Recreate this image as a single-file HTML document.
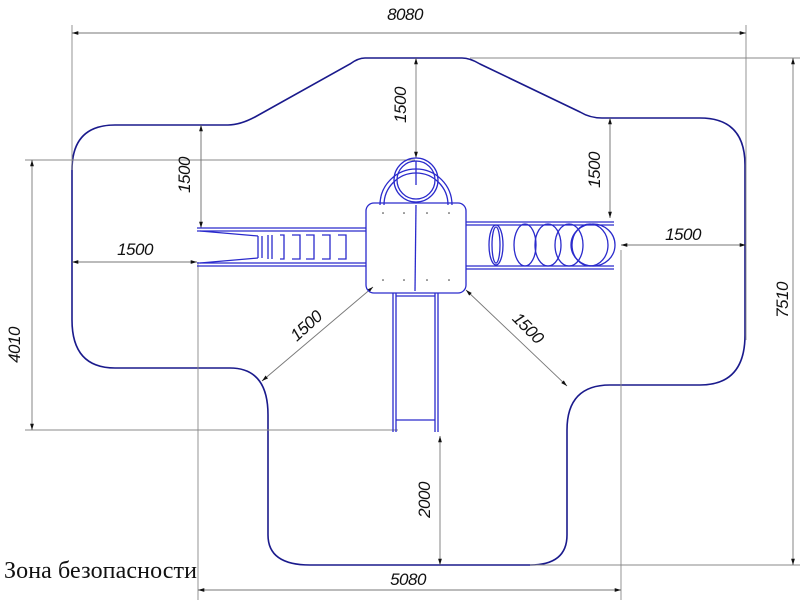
<!DOCTYPE html>
<html><head><meta charset="utf-8"><style>
html,body{margin:0;padding:0;background:#fff;width:800px;height:600px;overflow:hidden}
svg{display:block}
.d{font-family:"Liberation Sans",sans-serif;font-style:italic;font-size:17px;fill:#111;letter-spacing:-0.5px}
</style></head><body>
<svg width="800" height="600" viewBox="0 0 800 600" xmlns="http://www.w3.org/2000/svg">
<defs>
<marker id="a" viewBox="0 0 10 10" refX="10" refY="5" markerWidth="7" markerHeight="7" orient="auto-start-reverse"><path d="M0,2 L10,5 L0,8z" fill="#111"/></marker>
</defs>
<path d="M365,58 L462,58 Q470,58 480,64 L580,112 Q590,118 602,118 L700,118 Q745,118 745,165 L745,335 Q745,385 700,385 L610,385 Q567,385 567,430 L567,535 Q567,565 530,565 L310,565 Q268,565 268,535 L268,415 Q268,368 230,368 L115,368 Q72,368 72,320 L72,170 Q72,125 115,125 L228,125 Q240,125 255,117 L350,64 Q358,58 365,58 Z" fill="none" stroke="#1a1a8c" stroke-width="1.6"/>
<g stroke="#888" stroke-width="0.9" fill="none">
<line x1="72" y1="25" x2="72" y2="170"/><line x1="746" y1="25" x2="746" y2="340"/>
<line x1="470" y1="58" x2="800" y2="58"/><line x1="530" y1="565" x2="800" y2="565"/>
<line x1="25" y1="160" x2="415" y2="160"/><line x1="25" y1="430" x2="398" y2="430"/>
<line x1="198" y1="262" x2="198" y2="600"/><line x1="621" y1="250" x2="621" y2="600"/>
<line x1="201" y1="125" x2="201" y2="228"/><line x1="610" y1="118" x2="610" y2="218"/>
</g>
<g stroke="#777" stroke-width="0.9" fill="none" marker-start="url(#a)" marker-end="url(#a)">
<line x1="72" y1="33" x2="746" y2="33"/>
<line x1="793" y1="58" x2="793" y2="565"/>
<line x1="32" y1="160" x2="32" y2="430"/>
<line x1="198" y1="590" x2="621" y2="590"/>
<line x1="416" y1="58" x2="416" y2="158"/>
<line x1="201" y1="125" x2="201" y2="228"/>
<line x1="610" y1="118" x2="610" y2="218"/>
<line x1="72" y1="262" x2="197" y2="262"/>
<line x1="621" y1="245" x2="746" y2="245"/>
<line x1="440" y1="436" x2="440" y2="565"/>
<line x1="262" y1="381" x2="373" y2="287"/>
<line x1="466" y1="290" x2="567" y2="386"/>
</g>
<text class="d" x="405" y="20" text-anchor="middle">8080</text>
<text class="d" x="408" y="585" text-anchor="middle">5080</text>
<text class="d" x="135" y="255" text-anchor="middle">1500</text>
<text class="d" x="683" y="240" text-anchor="middle">1500</text>
<text class="d" text-anchor="middle" transform="translate(406,105) rotate(-90)">1500</text>
<text class="d" text-anchor="middle" transform="translate(190,175) rotate(-90)">1500</text>
<text class="d" text-anchor="middle" transform="translate(600,170) rotate(-90)">1500</text>
<text class="d" text-anchor="middle" transform="translate(430,500) rotate(-90)">2000</text>
<text class="d" text-anchor="middle" transform="translate(20,345) rotate(-90)">4010</text>
<text class="d" text-anchor="middle" transform="translate(788,300) rotate(-90)">7510</text>
<text class="d" text-anchor="middle" transform="translate(310,330) rotate(-42)">1500</text>
<text class="d" text-anchor="middle" transform="translate(524,332) rotate(45)">1500</text>
<text x="4" y="578" font-family="Liberation Serif,serif" font-size="24" fill="#111" textLength="193">Зона безопасности</text>
<g stroke="#2a2acc" stroke-width="1.3" fill="none">
<circle cx="416" cy="180" r="22"/><circle cx="416" cy="180" r="19"/>
<line x1="416" y1="161" x2="416" y2="185"/>
<path d="M380,205 A36,36 0 0 1 452,205"/><path d="M384,205 A32,32 0 0 1 448,205"/>
<rect x="366" y="203" width="100" height="90" rx="8"/>
<line x1="416" y1="205" x2="415" y2="291"/>
<line x1="197" y1="228" x2="366" y2="228"/><line x1="197" y1="231" x2="366" y2="231"/>
<line x1="197" y1="263" x2="366" y2="263"/><line x1="197" y1="266" x2="366" y2="266"/>
<line x1="200" y1="231" x2="258" y2="236"/><line x1="200" y1="263" x2="258" y2="258"/>
<path d="M258,236 L258,258 M262,236 L262,258 M268,235 L268,259 M272,235 L272,259 M280,235 L284,235 L284,259 L280,259 M292,235 L300,235 L300,259 L292,259 M306,235 L314,235 L314,259 L306,259 M322,235 L330,235 L330,259 L322,259 M338,235 L346,235 L346,259 L338,259"/>
<line x1="466" y1="222" x2="614" y2="222"/><line x1="466" y1="225" x2="614" y2="225"/>
<line x1="466" y1="266" x2="614" y2="266"/><line x1="466" y1="269" x2="614" y2="269"/>
<ellipse cx="496" cy="245" rx="7" ry="20"/><ellipse cx="496" cy="245" rx="4" ry="18"/>
<ellipse cx="525" cy="245" rx="11" ry="21"/><ellipse cx="548" cy="245" rx="13" ry="21"/>
<ellipse cx="569" cy="245" rx="14" ry="21"/><ellipse cx="590" cy="245" rx="18" ry="21"/><ellipse cx="593" cy="245" rx="22" ry="21"/>
<line x1="393" y1="293" x2="393" y2="432"/><line x1="396" y1="293" x2="396" y2="432"/>
<line x1="435" y1="293" x2="435" y2="432"/><line x1="438" y1="293" x2="438" y2="432"/>
<line x1="396" y1="296" x2="435" y2="296"/><line x1="396" y1="420" x2="435" y2="420"/>
</g>
<g fill="#333"><circle cx="383" cy="213" r="0.8"/><circle cx="404" cy="213" r="0.8"/><circle cx="427" cy="213" r="0.8"/><circle cx="449" cy="213" r="0.8"/><circle cx="383" cy="280" r="0.8"/><circle cx="404" cy="280" r="0.8"/><circle cx="427" cy="280" r="0.8"/><circle cx="449" cy="280" r="0.8"/></g>
</svg>
</body></html>
